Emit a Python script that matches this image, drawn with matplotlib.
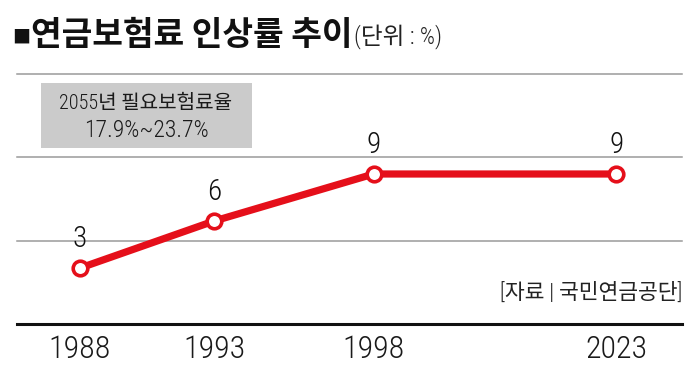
import matplotlib
matplotlib.use("Agg")
import matplotlib.pyplot as plt
from matplotlib.patches import Rectangle

NUMF = ['Roboto Condensed', 'Barlow Semi Condensed', 'Noto Sans CJK KR', 'DejaVu Sans']
KRF = ['Noto Sans CJK KR', 'DejaVu Sans']
plt.rcParams['font.family'] = NUMF

years = ["1988", "1993", "1998", "2023"]
rates = [3, 6, 9, 9]
x_slots = [0, 1, 2.19, 4]   # horizontal layout slots of the categories

title = "연금보험료 인상률 추이"
unit = "(단위 : %)"
box_lines = ["2055년 필요보험료율", "17.9%~23.7%"]
source = "[자료 | 국민연금공단]"

RED = "#e50f1a"

fig = plt.figure(figsize=(7.0, 3.74), dpi=100)
W, H = 700, 374
ax = fig.add_axes([17 / W, 1 - 324 / H, 665 / W, 250 / H])
ax.set_xlim(-0.47, 4.49)
ax.set_ylim(-0.57, 15.38)

for f in (1 / 3, 2 / 3, 1.0):
    ax.plot([0, 1], [f, f], transform=ax.transAxes, color="#9a9a9a", lw=1.1,
            zorder=1, clip_on=False)

for s in ["top", "right", "left"]:
    ax.spines[s].set_visible(False)
ax.spines["bottom"].set_color("#111111")
ax.spines["bottom"].set_linewidth(2.2)
ax.set_yticks([])
ax.set_xticks(x_slots)
ax.set_xticklabels(years, fontsize=23, color="#1a1a1a", fontweight="light")
ax.tick_params(axis="x", length=0, pad=8)

ax.plot(x_slots, rates, color=RED, lw=5.2, solid_capstyle="round", zorder=3)
ax.plot(x_slots, rates, linestyle="none", marker="o", ms=10.5,
        markerfacecolor="white", markeredgecolor=RED, markeredgewidth=2.6, zorder=4)

for x, v in zip(x_slots, rates):
    ax.annotate(str(v), (x, v), xytext=(0, 21), textcoords="offset points",
                ha="center", va="center", fontsize=21, color="#111111",
                fontweight="light")

# title
sq = fig.text(12 / W, 1 - 38 / H, "■", fontsize=13, ha="left", va="center",
              color="#111111", family=KRF)
fig.canvas.draw()
sb = sq.get_window_extent()
t = fig.text(sb.x1 / W + 0.002, 1 - 35 / H, title, fontsize=24, fontweight="heavy",
             ha="left", va="center", color="#111111", family=KRF)
fig.canvas.draw()
bb = t.get_window_extent()
fig.text(bb.x1 / W + 0.001, 1 - 37 / H, unit, fontsize=17, ha="left",
         va="center", color="#222222", family=NUMF, fontweight="light")

# grey box
fig.patches.append(Rectangle((41 / W, 1 - 148 / H), 211 / W, 65 / H,
                             transform=fig.transFigure, facecolor="#cbcbcb",
                             edgecolor="none", zorder=2))
fig.text(146 / W, 1 - 103 / H, box_lines[0], fontsize=14.5, ha="center",
         va="center", color="#1a1a1a", zorder=3, fontweight="light")
fig.text(146 / W, 1 - 130 / H, box_lines[1], fontsize=17, ha="center",
         va="center", color="#1a1a1a", zorder=3, fontweight="light")

fig.text(682 / W, 1 - 293 / H, source, fontsize=15.5, ha="right", va="center",
         color="#222222", fontweight="light")

fig.savefig("out.png", dpi=100)
